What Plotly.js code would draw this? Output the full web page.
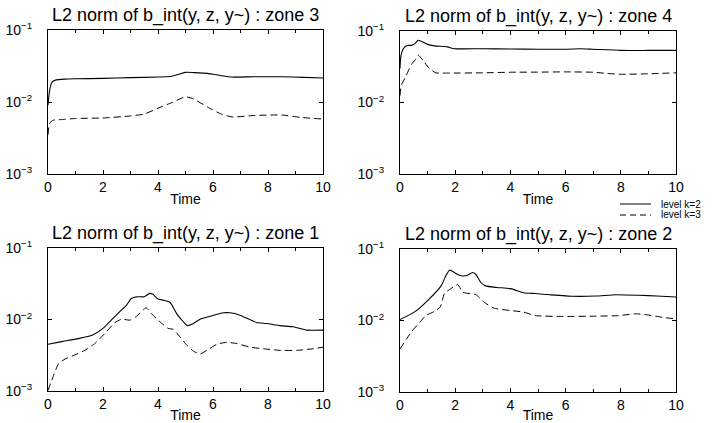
<!DOCTYPE html>
<html>
<head>
<meta charset="utf-8">
<script src="https://cdn.plot.ly/plotly-3.0.1.min.js"></script>
<style>html,body{margin:0;padding:0;background:#fff;}#chart{width:716px;height:423px;}</style>
</head>
<body>
<div id="chart"></div>
<script>
// ---- Data ----
const zoneNames = ["zone 3", "zone 4", "zone 1", "zone 2"];
const seriesNames = ["level k=2", "level k=3"];
const xTickVals = [0, 2, 4, 6, 8, 10];
const yTickVals = [0.001, 0.01, 0.1];
const yTickText = ["10<sup>\u22123</sup>", "10<sup>\u22122</sup>", "10<sup>\u22121</sup>"];

// zone 3
const z3_t_k2 = [0, 0.03, 0.08, 0.15, 0.3, 0.6, 1, 2, 3, 4, 4.5, 4.8, 5.0, 5.3, 5.8, 6.3, 6.7, 7.5, 8.5, 9.3, 10];
const z3_k2   = [0.009, 0.012, 0.016, 0.019, 0.0203, 0.0208, 0.021, 0.0213, 0.0218, 0.0222, 0.0228, 0.0245, 0.0258, 0.0256, 0.025, 0.0232, 0.0222, 0.0224, 0.0224, 0.022, 0.0215];
const z3_t_k3 = [0, 0.03, 0.08, 0.2, 0.5, 1, 2, 3, 3.5, 4, 4.5, 5.0, 5.3, 5.8, 6.3, 6.7, 7.5, 8.5, 9.2, 10];
const z3_k3   = [0.0035, 0.0045, 0.0052, 0.0056, 0.0057, 0.0059, 0.006, 0.0064, 0.0068, 0.0082, 0.0098, 0.0118, 0.011, 0.0085, 0.0068, 0.0062, 0.0065, 0.0066, 0.0061, 0.0058];

// zone 4
const z4_t_k2 = [0, 0.02, 0.07, 0.17, 0.29, 0.41, 0.53, 0.65, 0.77, 1.0, 1.25, 1.72, 1.96, 3, 4, 5, 6, 6.5, 7, 8, 9, 10];
const z4_k2   = [0.03, 0.041, 0.051, 0.06, 0.063, 0.063, 0.066, 0.074, 0.072, 0.065, 0.062, 0.06, 0.0565, 0.0565, 0.056, 0.0555, 0.0555, 0.0565, 0.0555, 0.0535, 0.0535, 0.0535];
const z4_t_k3 = [0, 0.05, 0.23, 0.41, 0.59, 0.67, 0.83, 1.07, 1.3, 1.72, 3, 4, 5, 6, 7, 7.5, 8, 9, 10];
const z4_k3   = [0.0125, 0.0174, 0.024, 0.034, 0.041, 0.0457, 0.039, 0.0297, 0.026, 0.0258, 0.026, 0.0265, 0.0266, 0.0268, 0.0265, 0.0255, 0.0248, 0.0252, 0.026];

// zone 1
const z1_t_k2 = [0, 0.5, 1.1, 1.6, 2.0, 2.3, 2.6, 2.85, 3.03, 3.27, 3.5, 3.7, 3.82, 4.0, 4.2, 4.44, 4.68, 4.92, 5.07, 5.29, 5.53, 5.89, 6.38, 6.62, 6.98, 7.58, 7.95, 8.44, 8.92, 9.41, 10];
const z1_k2   = [0.0045, 0.0049, 0.0054, 0.006, 0.0075, 0.0098, 0.0128, 0.0158, 0.0197, 0.0208, 0.0208, 0.0232, 0.0225, 0.0193, 0.0186, 0.0173, 0.0121, 0.0093, 0.0082, 0.0088, 0.0101, 0.0111, 0.0124, 0.0124, 0.0115, 0.0091, 0.0088, 0.0082, 0.0079, 0.0071, 0.0071];
const z1_t_k3 = [0, 0.19, 0.38, 0.62, 0.98, 1.34, 1.7, 2.07, 2.44, 2.68, 2.98, 3.2, 3.45, 3.57, 3.76, 4.07, 4.37, 4.55, 4.8, 5.04, 5.29, 5.53, 5.78, 6.14, 6.5, 6.87, 7.35, 7.83, 8.44, 9.04, 9.65, 10];
const z1_k3   = [0.00102, 0.0016, 0.0024, 0.0028, 0.0032, 0.0037, 0.0046, 0.0064, 0.0091, 0.0101, 0.0098, 0.0109, 0.0135, 0.0146, 0.0121, 0.0093, 0.0075, 0.0073, 0.0057, 0.0044, 0.0036, 0.0033, 0.0037, 0.0045, 0.0048, 0.0046, 0.0041, 0.0039, 0.0037, 0.0037, 0.0039, 0.0041];

// zone 2
const z2_t_k2 = [0, 0.53, 1.0, 1.49, 1.67, 1.79, 1.9, 2.09, 2.27, 2.45, 2.63, 2.75, 2.93, 3.1, 3.5, 4.0, 4.48, 4.9, 5.43, 6.27, 7.1, 7.83, 8.67, 9.3, 10];
const z2_k2   = [0.0103, 0.0132, 0.019, 0.0305, 0.043, 0.0506, 0.049, 0.044, 0.042, 0.043, 0.047, 0.044, 0.034, 0.0305, 0.029, 0.0279, 0.0245, 0.0238, 0.0229, 0.0218, 0.022, 0.0229, 0.0225, 0.022, 0.0213];
const z2_t_k3 = [0, 0.41, 0.77, 0.95, 1.25, 1.46, 1.61, 1.85, 2.09, 2.27, 2.5, 2.75, 3.05, 3.4, 4.0, 4.48, 4.9, 5.9, 7.1, 7.93, 8.54, 8.96, 9.5, 10];
const z2_k3   = [0.004, 0.0069, 0.01, 0.0118, 0.0134, 0.0155, 0.0238, 0.028, 0.0318, 0.025, 0.0238, 0.023, 0.018, 0.0149, 0.0138, 0.0131, 0.0117, 0.0114, 0.0115, 0.0117, 0.0124, 0.012, 0.0111, 0.0105];

// ---- Build figure ----
const W = 716, H = 423;
const panels = [
  {name: zoneNames[0], k2: [z3_t_k2, z3_k2], k3: [z3_t_k3, z3_k3], px: [48, 323], py: [30, 174]},
  {name: zoneNames[1], k2: [z4_t_k2, z4_k2], k3: [z4_t_k3, z4_k3], px: [400, 676], py: [31, 174]},
  {name: zoneNames[2], k2: [z1_t_k2, z1_k2], k3: [z1_t_k3, z1_k3], px: [48, 323], py: [248, 391]},
  {name: zoneNames[3], k2: [z2_t_k2, z2_k2], k3: [z2_t_k3, z2_k3], px: [400, 676], py: [249, 392]}
];
const FONT = "Liberation Sans, Arial, Helvetica, sans-serif";
const traces = [];
const layout = {
  width: W, height: H,
  margin: {l: 0, r: 0, t: 0, b: 0},
  paper_bgcolor: "#fff", plot_bgcolor: "#fff",
  showlegend: false,
  font: {family: FONT, color: "#000", size: 14},
  annotations: [], shapes: []
};

panels.forEach((p, i) => {
  const n = i + 1;
  const xa = "x" + (n === 1 ? "" : n), ya = "y" + (n === 1 ? "" : n);
  traces.push({x: p.k2[0], y: p.k2[1], xaxis: xa, yaxis: ya, type: "scatter", mode: "lines",
    name: seriesNames[0], line: {color: "#000", width: 1.1, shape: "spline", smoothing: 0.5}});
  traces.push({x: p.k3[0], y: p.k3[1], xaxis: xa, yaxis: ya, type: "scatter", mode: "lines",
    name: seriesNames[1], line: {color: "#000", width: 1, dash: "7px,4px", shape: "spline", smoothing: 0.5}});
  const common = {showline: true, linecolor: "#000", linewidth: 1, mirror: "ticks", ticks: "inside",
    tickcolor: "#000", ticklen: 4, showgrid: false, zeroline: false, fixedrange: true,
    tickfont: {family: FONT, size: 14, color: "#000"}};
  layout["xaxis" + (n === 1 ? "" : n)] = Object.assign({}, common, {
    domain: [p.px[0] / W, p.px[1] / W], anchor: ya, range: [0, 10],
    tickvals: xTickVals,
    minor: {dtick: 1, ticks: "inside", ticklen: 3, tickcolor: "#000", showgrid: false},
    title: {text: "Time", font: {family: FONT, size: 14, color: "#000"}, standoff: 0}
  });
  layout["yaxis" + (n === 1 ? "" : n)] = Object.assign({}, common, {
    domain: [1 - p.py[1] / H, 1 - p.py[0] / H], anchor: xa, type: "log", range: [-3, -1],
    tickvals: yTickVals, ticktext: yTickText, ticklabelstandoff: 12
  });
  layout.annotations.push({
    xref: "paper", yref: "paper", x: (p.px[0] + p.px[1]) / 2 / W, y: 1 - (p.py[0] - 15) / H,
    xanchor: "center", yanchor: "middle", showarrow: false,
    text: "L2 norm of b_int(y, z, y~) : " + p.name,
    font: {family: FONT, size: 18, color: "#000"}
  });
});

// legend key next to the right-hand panels
const legY = [204, 215];
const legDash = ["solid", "6px,4px"];
legY.forEach((yy, j) => {
  layout.shapes.push({type: "line", xref: "paper", yref: "paper",
    x0: 620 / W, x1: 651 / W, y0: 1 - yy / H, y1: 1 - yy / H,
    line: {color: "#000", width: 1, dash: legDash[j]}});
  layout.annotations.push({xref: "paper", yref: "paper", x: 659 / W, y: 1 - yy / H,
    xanchor: "left", yanchor: "middle", showarrow: false, text: seriesNames[j],
    font: {family: FONT, size: 10, color: "#000"}});
});

Plotly.newPlot("chart", traces, layout, {staticPlot: true, displayModeBar: false});
</script>
</body>
</html>
